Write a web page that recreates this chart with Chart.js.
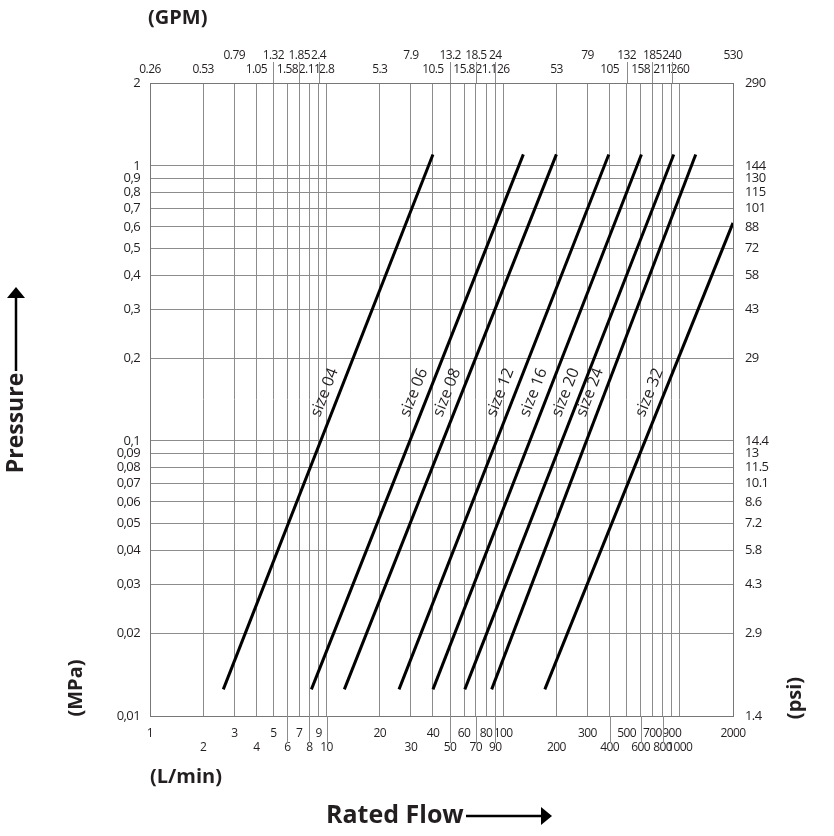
<!DOCTYPE html>
<html>
<head>
<meta charset="utf-8">
<script src="https://cdn.jsdelivr.net/npm/chart.js@4.4.1/dist/chart.umd.min.js"></script>
<style>
  body { margin: 0; background: #fff; }
  #wrap { width: 834px; height: 836px; position: relative; }
</style>
</head>
<body>
<div id="wrap"><canvas id="flowChart"></canvas></div>
<script>
// flow axis (L/min) and the matching GPM labels on top
const flowTicks = [1, 2, 3, 4, 5, 6, 7, 8, 9, 10, 20, 30, 40, 50, 60, 70, 80, 90, 100,
  200, 300, 400, 500, 600, 700, 800, 900, 1000, 2000];
const gpmLabels = ["0.26", "0.53", "0.79", "1.05", "1.32", "1.58", "1.85", "2.11", "2.4", "2.8",
  "5.3", "7.9", "10.5", "13.2", "15.8", "18.5", "21.1", "24", "26",
  "53", "79", "105", "132", "158", "185", "211", "240", "260", "530"];
const gpmRow = [1, 1, 0, 1, 0, 1, 0, 1, 0, 1, 1, 0, 1, 0, 1, 0, 1, 0, 1, 1, 0, 1, 0, 1, 0, 1, 0, 1, 0];

// pressure axis (MPa) and psi labels on the right
const pressureTicks = [0.01, 0.02, 0.03, 0.04, 0.05, 0.06, 0.07, 0.08, 0.09,
  0.1, 0.2, 0.3, 0.4, 0.5, 0.6, 0.7, 0.8, 0.9, 1, 2];
const mpaLabels = ["0,01", "0,02", "0,03", "0,04", "0,05", "0,06", "0,07", "0,08", "0,09",
  "0,1", "0,2", "0,3", "0,4", "0,5", "0,6", "0,7", "0,8", "0,9", "1", "2"];
const psiLabels = ["1.4", "2.9", "4.3", "5.8", "7.2", "8.6", "10.1", "11.5", "13",
  "14.4", "29", "43", "58", "72", "88", "101", "115", "130", "144", "290"];

// one straight line per size (start / end)
const sizeNames = ["size 04", "size 06", "size 08", "size 12", "size 16", "size 20", "size 24", "size 32"];
const flowStart = [2.6, 8.2, 12.6, 25.7, 40, 60.6, 86, 172];
const flowEnd = [40, 130, 200, 396, 606, 924, 1230, 2000];
const pressureStart = [0.0125, 0.0125, 0.0125, 0.0125, 0.0125, 0.0125, 0.0125, 0.0125];
const pressureEnd = [1.1, 1.1, 1.1, 1.1, 1.1, 1.1, 1.1, 0.62];

// grid lines that run out past the frame towards their label
const topLongTicks = [5, 7, 9, 50, 70, 90, 500, 700, 900];
const bottomLongTicks = [6, 8, 10, 50, 70, 90, 400, 600, 800];

const gridColor = "#8c8c8c";
const textColor = "#231f20";
const tickFont = { family: "'Open Sans'", size: 12 };

const datasets = sizeNames.map((name, i) => ({
  label: name,
  data: [
    { x: flowStart[i], y: pressureStart[i] },
    { x: flowEnd[i], y: pressureEnd[i] },
  ],
  showLine: true,
  borderColor: "#000",
  borderWidth: 3,
  pointRadius: 0,
  borderCapStyle: "butt",
}));

function arrowHead(ctx, x, y, dir) {
  // dir: "up" or "right"
  ctx.beginPath();
  if (dir === "up") {
    ctx.moveTo(x, y);
    ctx.lineTo(x - 9, y + 11);
    ctx.lineTo(x + 9, y + 11);
  } else {
    ctx.moveTo(x, y);
    ctx.lineTo(x - 11, y - 9);
    ctx.lineTo(x - 11, y + 9);
  }
  ctx.closePath();
  ctx.fill();
}

const decorations = {
  id: "decorations",
  beforeDraw(chart) {
    // tick labels in the original are set in a narrow face
    chart.ctx.letterSpacing = "-0.6px";
  },
  afterDraw(chart) {
    const { ctx, chartArea, scales } = chart;
    const xs = scales.x, ys = scales.y;
    ctx.letterSpacing = "0px";
    ctx.save();

    // long ticks
    ctx.strokeStyle = gridColor;
    ctx.lineWidth = 1;
    ctx.beginPath();
    topLongTicks.forEach((v) => {
      const px = Math.round(xs.getPixelForValue(v)) + 0.5;
      ctx.moveTo(px, chartArea.top);
      ctx.lineTo(px, chartArea.top - 21);
    });
    bottomLongTicks.forEach((v) => {
      const px = Math.round(xs.getPixelForValue(v)) + 0.5;
      ctx.moveTo(px, chartArea.bottom);
      ctx.lineTo(px, chartArea.bottom + 27);
    });
    ctx.stroke();

    // size labels along each line
    ctx.fillStyle = textColor;
    ctx.font = "16px 'Open Sans'";
    ctx.textAlign = "center";
    ctx.textBaseline = "middle";
    const labelP = 0.15;
    sizeNames.forEach((name, i) => {
      const l0 = Math.log10(pressureStart[i]), l1 = Math.log10(pressureEnd[i]);
      const t = (Math.log10(labelP) - l0) / (l1 - l0);
      const q = Math.pow(10, Math.log10(flowStart[i]) + t * (Math.log10(flowEnd[i]) - Math.log10(flowStart[i])));
      const x0 = xs.getPixelForValue(flowStart[i]), y0 = ys.getPixelForValue(pressureStart[i]);
      const x1 = xs.getPixelForValue(flowEnd[i]), y1 = ys.getPixelForValue(pressureEnd[i]);
      const ang = Math.atan2(y1 - y0, x1 - x0);
      ctx.save();
      ctx.translate(xs.getPixelForValue(q) - 15, ys.getPixelForValue(labelP));
      ctx.rotate(ang);
      ctx.fillText(name, 0, 0);
      ctx.restore();
    });

    // unit titles
    ctx.font = "bold 20px 'Open Sans'";
    ctx.textAlign = "left";
    ctx.textBaseline = "middle";
    ctx.fillText("(GPM)", 148, 18);
    ctx.fillText("(L/min)", 150, 777);

    ctx.textAlign = "center";
    ctx.save();
    ctx.translate(76, 688);
    ctx.rotate(-Math.PI / 2);
    ctx.fillText("(MPa)", 0, 0);
    ctx.restore();
    ctx.save();
    ctx.translate(795, 698);
    ctx.rotate(-Math.PI / 2);
    ctx.fillText("(psi)", 0, 0);
    ctx.restore();

    // Pressure with arrow
    ctx.font = "bold 23px 'Open Sans'";
    ctx.save();
    ctx.translate(16, 423);
    ctx.rotate(-Math.PI / 2);
    ctx.fillText("Pressure", 0, 0);
    ctx.restore();
    ctx.strokeStyle = "#000";
    ctx.fillStyle = "#000";
    ctx.lineWidth = 2.5;
    ctx.beginPath();
    ctx.moveTo(16, 371);
    ctx.lineTo(16, 296);
    ctx.stroke();
    arrowHead(ctx, 16, 287, "up");

    // Rated Flow with arrow
    ctx.font = "bold 25px 'Open Sans'";
    ctx.fillStyle = textColor;
    ctx.textAlign = "left";
    ctx.textBaseline = "alphabetic";
    ctx.fillText("Rated Flow", 326, 823);
    ctx.fillStyle = "#000";
    ctx.beginPath();
    ctx.moveTo(466, 816);
    ctx.lineTo(542, 816);
    ctx.stroke();
    arrowHead(ctx, 552, 816, "right");

    ctx.restore();
  },
};

function flowChart() {
  const config = {
    type: "scatter",
    data: { datasets: datasets },
    options: {
      responsive: true,
      maintainAspectRatio: false,
      animation: false,
      layout: { padding: 0 },
      plugins: {
        legend: { display: false },
        tooltip: { enabled: false },
      },
      scales: {
        x: {
          type: "logarithmic",
          position: "bottom",
          min: 1,
          max: 2000,
          afterBuildTicks: (s) => { s.ticks = flowTicks.map((v) => ({ value: v })); },
          afterFit: (s) => { s.height = 120; },
          grid: { color: gridColor, drawTicks: false },
          border: { color: "#777" },
          ticks: {
            autoSkip: false,
            maxRotation: 0,
            padding: 10,
            color: textColor,
            font: tickFont,
            callback: (v, i) => (i % 2 === 0 ? [String(flowTicks[i]), ""] : ["", String(flowTicks[i])]),
          },
        },
        xTop: {
          type: "logarithmic",
          position: "top",
          axis: "x",
          min: 1,
          max: 2000,
          afterBuildTicks: (s) => { s.ticks = flowTicks.map((v) => ({ value: v })); },
          afterFit: (s) => { s.height = 83; },
          grid: { drawOnChartArea: false, drawTicks: false },
          border: { color: "#777" },
          ticks: {
            autoSkip: false,
            maxRotation: 0,
            padding: 6,
            color: textColor,
            font: tickFont,
            callback: (v, i) => (gpmRow[i] === 0 ? [gpmLabels[i], ""] : ["", gpmLabels[i]]),
          },
        },
        y: {
          type: "logarithmic",
          position: "left",
          min: 0.01,
          max: 2,
          afterBuildTicks: (s) => { s.ticks = pressureTicks.map((v) => ({ value: v })); },
          afterFit: (s) => { s.width = 150; },
          grid: { color: gridColor, drawTicks: false },
          border: { color: "#777" },
          ticks: {
            autoSkip: false,
            padding: 10,
            color: textColor,
            font: { family: "'Open Sans'", size: 13 },
            callback: (v, i) => mpaLabels[i],
          },
        },
        yRight: {
          type: "logarithmic",
          position: "right",
          axis: "y",
          min: 0.01,
          max: 2,
          afterBuildTicks: (s) => { s.ticks = pressureTicks.map((v) => ({ value: v })); },
          afterFit: (s) => { s.width = 101; },
          grid: { drawOnChartArea: false, drawTicks: false },
          border: { color: "#777" },
          ticks: {
            autoSkip: false,
            padding: 12,
            color: textColor,
            font: { family: "'Open Sans'", size: 13 },
            callback: (v, i) => psiLabels[i],
          },
        },
      },
    },
    plugins: [decorations],
  };

  const ctx = document.getElementById("flowChart").getContext("2d");
  new Chart(ctx, config);
}
flowChart();
</script>
</body>
</html>
